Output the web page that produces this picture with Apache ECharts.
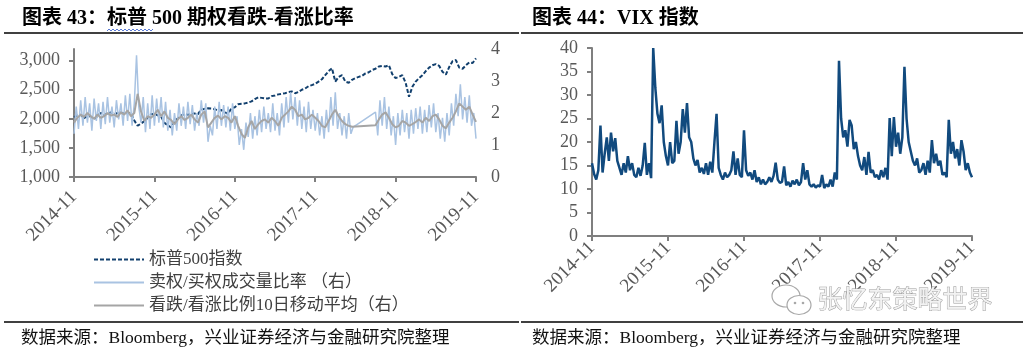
<!DOCTYPE html>
<html>
<head>
<meta charset="utf-8">
<script src="https://cdn.jsdelivr.net/npm/echarts@6/dist/echarts.min.js"></script>
<style>
  html, body { margin: 0; padding: 0; background: #fff; }
  #main { width: 1026px; height: 353px; }
</style>
</head>
<body>
<div id="main"></div>
<script>
// x positions are months counted from 2014-11
const tickLabels = ['2014-11', '2015-11', '2016-11', '2017-11', '2018-11', '2019-11'];
const seriesNames = ['标普500指数', '卖权/买权成交量比率 （右）', '看跌/看涨比例10日移动平均（右）'];

// S&P 500, twice a month
const spx = [
  2030, 2060, 2070, 2010, 2050, 2040, 1995, 2050, 2100, 2070,
  2090, 2110, 2080, 2100, 2110, 2090, 2100, 2100, 1970, 1880,
  1920, 1960, 2020, 2080, 2090, 2060, 2040, 1930, 1890, 1850,
  1940, 2010, 2060, 2080, 2070, 2090, 2090, 2080, 2160, 2170,
  2180, 2175, 2165, 2140, 2150, 2110, 2090, 2180, 2200, 2250,
  2260, 2265, 2280, 2300, 2340, 2370, 2360, 2350, 2350, 2390,
  2400, 2420, 2430, 2440, 2460, 2470, 2440, 2460, 2500, 2520,
  2560, 2580, 2600, 2640, 2680, 2750, 2820, 2870, 2640, 2720,
  2750, 2640, 2620, 2670, 2700, 2720, 2740, 2780, 2800, 2840,
  2860, 2900, 2910, 2900, 2920, 2770, 2700, 2720, 2750, 2620,
  2380, 2550, 2640, 2700, 2750, 2820, 2880, 2920, 2940, 2910,
  2810, 2760, 2890, 2990, 3010, 2880, 2860, 2920, 2970, 2960,
  3040
];

// put/call volume ratio, three points a month (gap mid 2018)
const ratio = [
  1.35, 2.2, 1.5, 2.4, 1.6, 2.5, 1.7,
  2.3, 1.45, 2.45, 1.75, 2.3, 1.5,
  2.35, 1.65, 2.5, 1.7, 2.2, 1.55,
  2.4, 1.8, 2.3, 1.6, 2.55, 1.75,
  2.6, 1.6, 2.3, 3.8, 2.2, 1.7,
  2.5, 1.4, 2.3, 1.5, 2.55, 1.6,
  2.45, 1.7, 2.5, 1.55, 2.35, 1.45,
  2.1, 1.3, 2.0, 1.45, 2.3, 1.6,
  2.2, 1.5, 2.35, 1.65, 2.25, 1.45,
  2.0, 1.6, 2.4, 1.7, 2.3, 1.1,
  1.6, 1.3, 2.2, 1.5, 2.35, 1.6,
  2.25, 1.55, 2.2, 1.45, 2.3, 1.5,
  1.9, 1.0, 1.5, 0.85, 1.7, 1.25,
  2.0, 1.2, 1.9, 1.3, 2.1, 1.4,
  2.2, 1.5, 2.0, 1.4, 2.3, 1.45,
  2.0, 1.3, 2.3, 1.55, 2.5, 1.7,
  2.65, 1.8, 2.5, 1.6, 2.4, 1.5,
  2.2, 1.4, 2.35, 1.5, 2.1, 1.45,
  2.0, 1.3, 1.9, 1.2, 2.1, 1.4,
  2.5, 1.6, 2.65, 1.5, 2.0, 1.3,
  1.9, 1.2, 2.0, 1.35, 1.56,
  null, null, null, null, null, null, null, null, null,
  2.03,
  1.3, 2.4, 1.6, 2.5, 1.5, 2.2,
  1.3, 1.9, 1.0, 2.0, 1.3, 2.1,
  1.4, 2.0, 1.2, 2.1, 1.35, 2.15,
  1.5, 2.2, 1.35, 2.1, 1.4, 2.25,
  1.55, 2.3, 1.4, 2.0, 1.2, 1.85,
  1.1, 2.0, 1.3, 2.3, 1.6, 2.6,
  1.9, 2.9, 1.8, 2.5, 1.7, 2.55,
  1.6, 2.0, 1.2
];

// 10 day moving average, twice a month
const ratioMa = [
  1.70, 1.85, 1.95, 1.88, 2.00, 1.90, 1.82, 1.95, 1.85, 1.90,
  2.00, 1.92, 1.95, 1.88, 2.02, 1.95, 2.08, 1.90, 2.00, 2.60,
  2.05, 1.75, 1.90, 1.85, 1.95, 2.10, 1.90, 2.05, 1.85, 1.78,
  1.65, 1.80, 1.90, 1.78, 1.85, 1.95, 1.80, 1.70, 1.95, 2.05,
  1.55, 1.70, 1.85, 1.92, 1.80, 1.90, 1.85, 1.70, 1.90, 1.60,
  1.35, 1.22, 1.55, 1.75, 1.50, 1.65, 1.75, 1.80, 1.70, 1.85,
  1.75, 1.60, 1.85, 1.95, 2.05, 2.20, 2.10, 1.90, 1.95, 1.80,
  1.85, 1.95, 1.85, 1.75, 1.60, 1.55, 1.75, 1.95, 2.10, 1.90,
  1.75, 1.65, 1.60, 1.57, null, null, null, null, null, null,
  1.62, 1.80, 1.95, 2.02, 1.85, 1.65, 1.55, 1.60, 1.75, 1.70,
  1.60, 1.65, 1.72, 1.80, 1.70, 1.85, 1.75, 1.90, 1.95, 1.80,
  1.60, 1.52, 1.70, 1.85, 2.05, 2.30, 2.20, 2.10, 2.20, 1.95,
  1.72
];

// VIX, three points a month
const vix = [
  15.5, 13.2, 12.0, 14.0, 23.5, 13.5, 17.5, 21.0, 16.0, 22.0, 18.0, 20.8,
  16.0, 14.5, 13.0, 15.5, 13.5, 17.0, 14.0, 15.5, 13.0, 12.5, 14.5, 12.8,
  15.0, 19.8, 13.0, 15.5, 12.3, 40.0, 31.5, 26.0, 24.0, 27.8, 20.0, 17.0,
  15.0, 20.0, 15.5, 16.0, 24.5, 17.5, 20.0, 27.0, 22.0, 28.3, 21.0, 20.0,
  16.5, 15.0, 16.2, 13.5, 14.5, 13.2, 15.5, 13.0, 15.8, 13.5, 20.0, 26.0,
  14.5, 13.0, 12.0, 13.5, 12.5, 13.0, 14.0, 18.0, 13.0, 16.5, 13.0, 12.5,
  22.5, 14.0, 12.8, 13.5, 12.0, 14.0, 11.5, 12.5, 11.0, 12.0, 11.0, 11.5,
  12.5, 11.5, 12.8, 15.6, 12.0, 11.3, 11.5, 14.8, 10.8, 11.5, 10.5, 11.8,
  11.0, 12.0, 10.8, 11.5, 15.5, 12.0, 14.0, 11.0, 10.5, 11.0, 10.3, 10.8,
  10.5, 13.0, 10.2, 11.0, 10.5, 12.0, 10.5, 13.5, 12.0, 37.3, 25.0, 21.0,
  22.5, 19.0, 24.7, 23.5, 18.5, 20.0, 17.0, 15.0, 14.0, 16.8, 13.0, 17.9,
  13.5, 14.0, 12.5, 13.0, 12.0, 14.0, 12.5, 14.5, 12.0, 25.1, 17.0, 25.3,
  19.0, 22.0, 17.5, 21.0, 36.0, 25.0, 20.0, 18.0, 16.0, 15.0, 16.5, 13.5,
  14.0, 15.5, 13.0, 16.0, 13.5, 20.4, 15.5, 17.5, 15.0, 16.0, 13.0, 13.5,
  12.5, 24.7, 17.5, 20.0, 16.5, 18.5, 15.0, 20.4, 18.0, 14.0, 15.5, 13.5,
  12.5
];

const serif = "'Liberation Serif', 'Noto Sans CJK SC'";
const axisGrey = '#7f7f7f';
const labelGrey = '#595959';

// spread a list evenly over the 60 months
function toPoints(vals) {
  return vals.map((v, i) => [i * 60 / (vals.length - 1), v]);
}

function monthAxis(gridIndex, margin) {
  return {
    type: 'value', gridIndex: gridIndex, min: 0, max: 60, interval: 12,
    axisLine: { lineStyle: { color: axisGrey, width: 2 } },
    axisTick: { length: 5, lineStyle: { color: axisGrey, width: 2 } },
    splitLine: { show: false },
    axisLabel: {
      rotate: 45, margin: margin, color: labelGrey, fontSize: 19, fontFamily: serif,
      formatter: v => tickLabels[Math.round(v / 12)]
    }
  };
}

// spell-check squiggle under the title word
const squiggle = [];
for (let x = 107; x <= 153; x += 2) squiggle.push([x, (x - 107) % 4 === 0 ? 31 : 29]);

const chart = echarts.init(document.getElementById('main'));
chart.setOption({
  animation: false,
  backgroundColor: '#fff',
  title: [
    { text: '图表 43：标普 500 期权看跌-看涨比率', left: 17, top: 4,
      textStyle: { fontSize: 20, fontWeight: 'bold', color: '#000', fontFamily: serif } },
    { text: '图表 44：VIX 指数', left: 527, top: 4,
      textStyle: { fontSize: 20, fontWeight: 'bold', color: '#000', fontFamily: serif } },
    { text: '数据来源：Bloomberg，兴业证券经济与金融研究院整理', left: 16, top: 325,
      textStyle: { fontSize: 17.5, fontWeight: 'normal', color: '#111', fontFamily: serif } },
    { text: '数据来源：Bloomberg，兴业证券经济与金融研究院整理', left: 527, top: 325,
      textStyle: { fontSize: 17.5, fontWeight: 'normal', color: '#111', fontFamily: serif } }
  ],
  legend: {
    orient: 'vertical', left: 88, top: 246, itemWidth: 50, itemHeight: 10, itemGap: 6,
    data: seriesNames,
    itemStyle: { opacity: 0 },
    textStyle: { fontSize: 17, color: '#404040', fontFamily: serif, lineHeight: 17 }
  },
  grid: [
    { left: 74, top: 49, width: 402, height: 128 },
    { left: 592, top: 48, width: 380, height: 188 }
  ],
  xAxis: [monthAxis(0, 17), monthAxis(1, 9)],
  yAxis: [
    {
      type: 'value', gridIndex: 0, min: 1000, max: 3200,
      axisLine: { show: true, lineStyle: { color: axisGrey, width: 2 } },
      axisTick: { show: true, length: 5, customValues: [1000, 1500, 2000, 2500, 3000],
        lineStyle: { color: axisGrey, width: 2 } },
      splitLine: { show: false },
      axisLabel: { margin: 14, color: labelGrey, fontSize: 18, fontFamily: serif,
        customValues: [1000, 1500, 2000, 2500, 3000],
        formatter: v => v.toLocaleString('en-US') }
    },
    {
      type: 'value', gridIndex: 0, position: 'right', min: 0, max: 4, interval: 1,
      axisLine: { show: false }, axisTick: { show: false }, splitLine: { show: false },
      axisLabel: { margin: 15, color: labelGrey, fontSize: 18, fontFamily: serif }
    },
    {
      type: 'value', gridIndex: 1, min: 0, max: 40, interval: 5,
      axisLine: { show: true, lineStyle: { color: axisGrey, width: 2 } },
      axisTick: { show: true, length: 5, lineStyle: { color: axisGrey, width: 2 } },
      splitLine: { show: false },
      axisLabel: { margin: 14, color: labelGrey, fontSize: 18, fontFamily: serif }
    }
  ],
  series: [
    {
      name: seriesNames[0], type: 'line', xAxisIndex: 0, yAxisIndex: 0,
      data: toPoints(spx), symbol: 'none',
      lineStyle: { color: '#12406e', width: 2, type: [4, 2] },
      itemStyle: { color: '#12406e' }
    },
    {
      name: seriesNames[1], type: 'line', xAxisIndex: 0, yAxisIndex: 1,
      data: toPoints(ratio), symbol: 'none', connectNulls: true,
      lineStyle: { color: '#a9c3e2', width: 1.5 },
      itemStyle: { color: '#a9c3e2' }
    },
    {
      name: seriesNames[2], type: 'line', xAxisIndex: 0, yAxisIndex: 1,
      data: toPoints(ratioMa), symbol: 'none', connectNulls: true,
      lineStyle: { color: '#a5a5a5', width: 2 },
      itemStyle: { color: '#a5a5a5' }
    },
    {
      name: 'VIX', type: 'line', xAxisIndex: 1, yAxisIndex: 2,
      data: toPoints(vix), symbol: 'none',
      lineStyle: { color: '#114a7e', width: 2.5 },
      itemStyle: { color: '#114a7e' }
    }
  ],
  graphic: [
    { type: 'line', shape: { x1: 4, y1: 33, x2: 519, y2: 33 }, style: { stroke: '#000', lineWidth: 1.5 } },
    { type: 'line', shape: { x1: 521, y1: 33, x2: 1023, y2: 33 }, style: { stroke: '#000', lineWidth: 1.5 } },
    { type: 'line', shape: { x1: 4, y1: 322, x2: 519, y2: 322 }, style: { stroke: '#000', lineWidth: 1.5 } },
    { type: 'line', shape: { x1: 521, y1: 322, x2: 1023, y2: 322 }, style: { stroke: '#000', lineWidth: 1.5 } },
    { type: 'polyline', shape: { points: squiggle }, style: { stroke: '#5b7bd5', lineWidth: 1, fill: null } },
    // watermark
    { type: 'rect', shape: { x: 764, y: 289, width: 236, height: 31 }, style: { fill: '#fff', opacity: 0.9 }, z: 50 },
    { type: 'ellipse', shape: { cx: 786, cy: 296, rx: 14, ry: 11 }, style: { fill: '#fff', stroke: '#a8a8a8', lineWidth: 1.2 }, z: 51 },
    { type: 'ellipse', shape: { cx: 799, cy: 305, rx: 12, ry: 9.5 }, style: { fill: '#fff', stroke: '#a8a8a8', lineWidth: 1.2 }, z: 52 },
    { type: 'circle', shape: { cx: 795, cy: 303, r: 1.3 }, style: { fill: '#a8a8a8' }, z: 53 },
    { type: 'circle', shape: { cx: 803, cy: 303, r: 1.3 }, style: { fill: '#a8a8a8' }, z: 53 },
    { type: 'text', left: 817, top: 286, z: 54,
      style: { text: '张忆东策略世界', fontSize: 25, fontFamily: "'Noto Sans CJK SC'",
        fill: '#f2f2f2', stroke: '#9a9a9a', lineWidth: 0.9 } }
  ]
});
</script>
</body>
</html>
